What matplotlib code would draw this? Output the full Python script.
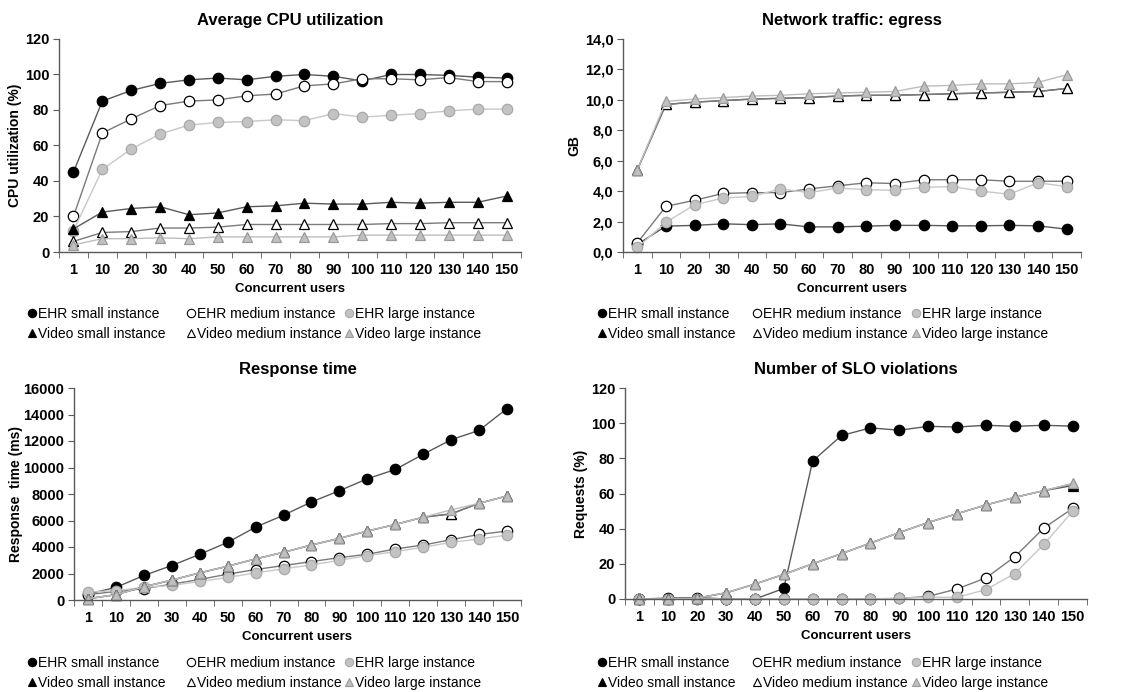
import matplotlib
matplotlib.use("Agg")
import matplotlib.pyplot as plt
from matplotlib.lines import Line2D
from matplotlib.ticker import FuncFormatter

plt.rcParams["font.family"] = ["Liberation Sans", "DejaVu Sans"]

# ── data ──────────────────────────────────────────────────────────────────────
users = ["1", "10", "20", "30", "40", "50", "60", "70", "80", "90",
         "100", "110", "120", "130", "140", "150"]

series_names = ["EHR small instance", "EHR medium instance", "EHR large instance",
                "Video small instance", "Video medium instance", "Video large instance"]

# Average CPU utilization (%)
cpu_ehr_small = [45, 85, 91, 95, 97, 98, 97, 99, 100, 99, 96.4, 100, 100, 99.5, 98.5, 98]
cpu_ehr_medium = [20, 67, 75, 82.5, 85, 85.7, 88, 89, 93.6, 94.7, 97.6, 97.6, 97, 98.3, 96, 96]
cpu_ehr_large = [12, 46.5, 58, 66.5, 71.5, 73, 73.5, 74.5, 74, 78, 76, 77, 78, 79.5, 80.5, 80.5]
cpu_vid_small = [13, 22.5, 24.5, 25.5, 21, 22, 25.5, 26, 27.5, 27, 27, 28, 27.5, 28, 28, 31.5]
cpu_vid_medium = [6, 11, 11.5, 13.5, 13.5, 14, 15.5, 15.5, 15.5, 15.5, 15.5, 16, 16, 16.5, 16.5, 16.5]
cpu_vid_large = [4, 7.5, 7.5, 8, 7.5, 8.5, 8.5, 8.5, 8.5, 8.5, 9.5, 9.5, 9.5, 9.5, 9.5, 9.5]

# Network traffic: egress (GB)
net_ehr_small = [0.5, 1.7, 1.75, 1.85, 1.8, 1.85, 1.65, 1.65, 1.7, 1.75, 1.75, 1.72, 1.72, 1.75, 1.72, 1.5]
net_ehr_medium = [0.6, 3.0, 3.4, 3.85, 3.9, 3.9, 4.15, 4.35, 4.55, 4.5, 4.75, 4.75, 4.75, 4.65, 4.65, 4.65]
net_ehr_large = [0.3, 1.95, 3.1, 3.55, 3.65, 4.15, 3.9, 4.2, 4.1, 4.05, 4.25, 4.3, 4.0, 3.8, 4.55, 4.3]
net_vid_small = [5.4, 9.7, 9.85, 9.95, 10.05, 10.1, 10.15, 10.25, 10.3, 10.3, 10.35, 10.4, 10.45, 10.5, 10.55, 10.75]
net_vid_medium = [5.4, 9.7, 9.85, 9.95, 10.05, 10.1, 10.15, 10.25, 10.3, 10.3, 10.35, 10.4, 10.45, 10.5, 10.55, 10.75]
net_vid_large = [5.4, 9.9, 10.05, 10.15, 10.25, 10.3, 10.4, 10.45, 10.5, 10.55, 10.9, 10.95, 11.05, 11.05, 11.15, 11.65]

# Response time (ms)
rt_ehr_small = [450, 950, 1850, 2600, 3450, 4350, 5500, 6400, 7400, 8250, 9150, 9850, 11000, 12100, 12800, 14450]
rt_ehr_medium = [400, 650, 850, 1200, 1550, 1950, 2300, 2600, 2900, 3200, 3450, 3850, 4150, 4550, 4950, 5200]
rt_ehr_large = [600, 700, 950, 1100, 1400, 1700, 2050, 2350, 2650, 3000, 3350, 3650, 3980, 4350, 4600, 4900]
rt_vid_small = [100, 400, 1000, 1500, 2050, 2550, 3100, 3600, 4150, 4650, 5200, 5700, 6250, 6500, 7300, 7850]
rt_vid_medium = [100, 400, 1000, 1500, 2050, 2550, 3100, 3600, 4150, 4650, 5200, 5700, 6250, 6500, 7300, 7850]
rt_vid_large = [100, 400, 1000, 1500, 2050, 2550, 3100, 3600, 4150, 4650, 5200, 5700, 6250, 6800, 7300, 7850]

# Number of SLO violations (% of requests)
slo_ehr_small = [0, 0.5, 0.8, 0, 0, 6, 78.5, 93, 97.3, 96, 98.2, 97.8, 98.8, 98.2, 98.8, 98.3]
slo_ehr_medium = [0, 0, 0, 0, 0, 0, 0, 0, 0, 0.3, 1.5, 5.7, 12, 24, 40.3, 51.5]
slo_ehr_large = [0, 0, 0, 0, 0, 0, 0, 0, 0, 0.5, 1, 1, 5.3, 14.5, 31, 49.8]
slo_vid_small = [0, 0, 0.5, 3.5, 8.5, 14, 20, 25.8, 31.8, 37.8, 43.5, 48.5, 53.5, 57.8, 61.6, 64.5]
slo_vid_medium = [0, 0, 0.5, 3.5, 8.5, 14, 20, 25.8, 31.8, 37.8, 43.5, 48.5, 53.5, 57.8, 61.6, 65.5]
slo_vid_large = [0, 0, 0.5, 3.5, 8.5, 14, 20, 25.8, 31.8, 37.8, 43.5, 48.5, 53.5, 57.8, 61.6, 65.8]

# ── styles (marker, fill, edge, line colour) ─────────────────────────────────
STYLES = [
    ("o", "black",   "black",   "#5a5a5a"),
    ("o", "white",   "black",   "#7a7a7a"),
    ("o", "#c3c3c3", "#a8a8a8", "#c8c8c8"),
    ("^", "black",   "black",   "#5a5a5a"),
    ("^", "white",   "black",   "#7a7a7a"),
    ("^", "#c0c0c0", "#9a9a9a", "#bdbdbd"),
]

W, H = 1121, 692
fig = plt.figure(figsize=(W / 100, H / 100), dpi=100)


def px_axes(left, right, top, bottom):
    return fig.add_axes([left / W, 1 - bottom / H, (right - left) / W, (bottom - top) / H])


def draw_panel(ax, data, title, ylabel, ymax, ystep, fmt, ylabel_x):
    x = list(range(len(users)))
    for vals, (m, fc, ec, lc) in zip(data, STYLES):
        ax.plot(x, vals, color=lc, lw=1.0, marker=m, markersize=7.5,
                markerfacecolor=fc, markeredgecolor=ec, markeredgewidth=0.9,
                clip_on=False)
    ax.set_xlim(-0.5, len(users) - 0.5)
    ax.set_ylim(0, ymax)
    ax.set_xticks(x)
    ax.set_xticklabels(users, fontsize=10.5, fontweight="bold")
    ax.set_xticks([i - 0.5 for i in range(len(users) + 1)], minor=True)
    ax.tick_params(axis="x", which="major", length=0, pad=8)
    ax.tick_params(axis="x", which="minor", length=4, direction="out", color="#595959")
    ax.set_yticks([v * ystep for v in range(int(round(ymax / ystep)) + 1)])
    ax.yaxis.set_major_formatter(FuncFormatter(fmt))
    ax.tick_params(axis="y", length=4, direction="out", color="#595959", pad=3)
    for lab in ax.get_yticklabels():
        lab.set_fontsize(10.5)
        lab.set_fontweight("bold")
    for s in ("top", "right"):
        ax.spines[s].set_visible(False)
    for s in ("left", "bottom"):
        ax.spines[s].set_color("#595959")
        ax.spines[s].set_linewidth(1.0)
    ax.set_title(title, fontsize=12, fontweight="bold", pad=10)
    ax.set_xlabel("Concurrent users", fontsize=9.5, fontweight="bold", labelpad=4)
    ax.set_ylabel(ylabel, fontsize=10, fontweight="bold")
    ax.yaxis.set_label_coords(ylabel_x, 0.5)


def add_legend(col_x, top_y):
    # Excel-style legend: 3 columns x 2 rows, one small legend per column
    handles = [Line2D([], [], linestyle="none", marker=m, markersize=6,
                      markerfacecolor=fc, markeredgecolor=ec, markeredgewidth=0.8)
               for m, fc, ec, lc in STYLES]
    for c, cx in enumerate(col_x):
        fig.legend([handles[c], handles[c + 3]], [series_names[c], series_names[c + 3]],
                   loc="upper left", bbox_to_anchor=(cx / W, 1 - top_y / H),
                   frameon=False, fontsize=10, handlelength=0.6, handletextpad=0.15,
                   labelspacing=0.45, borderpad=0, borderaxespad=0)


int_fmt = lambda v, p: f"{v:.0f}"
dec_fmt = lambda v, p: f"{v:.1f}".replace(".", ",")

ax1 = px_axes(59, 521, 39, 252)
draw_panel(ax1, [cpu_ehr_small, cpu_ehr_medium, cpu_ehr_large,
                 cpu_vid_small, cpu_vid_medium, cpu_vid_large],
           "Average CPU utilization", "CPU utilization (%)", 120, 20, int_fmt, -0.080)
add_legend([28, 187, 345], 307)

ax2 = px_axes(623, 1081, 39, 252)
draw_panel(ax2, [net_ehr_small, net_ehr_medium, net_ehr_large,
                 net_vid_small, net_vid_medium, net_vid_large],
           "Network traffic: egress", "GB", 14, 2, dec_fmt, -0.090)
add_legend([598, 753, 912], 307)

ax3 = px_axes(74, 521, 388, 600)
draw_panel(ax3, [rt_ehr_small, rt_ehr_medium, rt_ehr_large,
                 rt_vid_small, rt_vid_medium, rt_vid_large],
           "Response time", "Response  time (ms)", 16000, 2000, int_fmt, -0.114)
add_legend([28, 187, 345], 656)

ax4 = px_axes(625, 1087, 388, 599)
draw_panel(ax4, [slo_ehr_small, slo_ehr_medium, slo_ehr_large,
                 slo_vid_small, slo_vid_medium, slo_vid_large],
           "Number of SLO violations", "Requests (%)", 120, 20, int_fmt, -0.080)
add_legend([598, 753, 912], 656)

fig.savefig("out.png", dpi=100)
